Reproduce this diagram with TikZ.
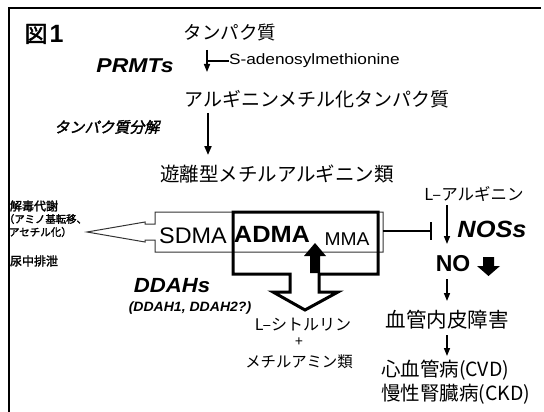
\documentclass[tikz,border=0pt]{standalone}
\usepackage{fontspec}
\setmainfont{Liberation Sans}
\newfontfamily\lsa{Liberation Sans}[FakeStretch=1.04]
\newfontfamily\lsb{Liberation Sans}[FakeStretch=1.08]
\newfontfamily\lsc{Liberation Sans}[FakeStretch=1.15]
\newfontfamily\jp{Noto Sans CJK JP}
\newfontfamily\jpb{Noto Sans CJK JP}[FakeBold=2]
\newfontfamily\jpbi{Noto Sans CJK JP}[FakeBold=2,FakeSlant=0.2]
\usetikzlibrary{arrows.meta}
\newcommand\fsz[1]{\fontsize{#1}{#1}\selectfont}
\tikzset{
  txt/.style={inner sep=0pt, outer sep=0pt},
  flow/.style={line width=1.5pt, -{Triangle[length=8pt,width=6pt]}},
  flowthick/.style={line width=2pt, -{Triangle[length=9pt,width=7pt]}},
  thinbox/.style={draw=black!80, line width=1pt, fill=white, line join=miter},
  thickbox/.style={draw=black, line width=3pt, line join=miter},
  blockarrow/.style={fill=black, draw=none},
  inhibit/.style={line width=2.5pt, -{Bar[width=18pt]}},
  frame/.style={line width=2pt, draw=black}
}
\begin{document}
\begin{tikzpicture}[x=1pt, y=-1pt]
\useasboundingbox (0,0) rectangle (544,412);
% frame
\draw[frame] (9,412) -- (9,8) -- (541,8);

% title
\node[txt] (fig) at (44,34) {\jpb\fsz{23}図\hspace{2pt}{\rmfamily\bfseries\fsz{25}1}};

% top chain
\node[txt] (p1) at (230,33) {\jp\fsz{18.5}タンパク質};
\node[txt] (prmt) at (135,66) {\lsc\bfseries\itshape\fsz{20}PRMTs};
\node[txt, anchor=west] (sam) at (229,61) {\lsc\fsz{15}S-adenosylmethionine};
\node[txt] (p2) at (317,99) {\jp\fsz{19}アルギニンメチル化タンパク質};
\node[txt] (deg) at (107,127) {\jpbi\fsz{15}タンパク質分解};
\node[txt] (free) at (277,174) {\jp\fsz{19.5}遊離型メチルアルギニン類};

\coordinate (a1s) at (207,50);
\coordinate (a1e) at (207,72);
\coordinate (a1m) at (207,61);
\draw[flow] (a1s) -- (a1e);
\draw[line width=1.5pt] (a1m) -- (sam.west);
\coordinate (a2s) at (208,113);
\coordinate (a2e) at (208,155);
\draw[flowthick] (a2s) -- (a2e);

% left texts
\node[txt, anchor=west] (detox) at (10,206) {\jpb\fsz{12}解毒代謝};
\node[txt, anchor=west] (ami) at (4,219) {\jpb\fsz{10.4}（アミノ基転移、};
\node[txt, anchor=west] (ace) at (9,232) {\jpb\fsz{10.5}アセチル化）};
\node[txt, anchor=west] (urine) at (10,261) {\jpb\fsz{12}尿中排泄};

% thin box with open left arrow
\draw[thinbox] (155,212) -- (383,212) -- (383,252) -- (155,252) -- (155,240)
  -- (145,240) -- (145,242) -- (87,232) -- (145,222) -- (145,224) -- (155,224) -- cycle;

% thick box with open down arrow
\draw[thickbox] (233,212) -- (378,212) -- (378,274) -- (319,274) -- (319,292)
  -- (338,292) -- (305,310) -- (273,292) -- (290,292) -- (290,274) -- (233,274) -- cycle;

\node[txt] (sdma) at (193,236) {\lsa\fsz{22.5}SDMA};
\node[txt] (adma) at (272,234) {\lsb\bfseries\fsz{23.5}ADMA};
\node[txt] (mma) at (347,239) {\lsa\fsz{18.5}MMA};

% filled up arrow
\fill[blockarrow] (315,243) -- (326,256) -- (320,256) -- (320,273) -- (310,273)
  -- (310,256) -- (304,256) -- cycle;

% inhibition
\coordinate (inhs) at (383,231);
\coordinate (inhe) at (432,231);
\draw[inhibit] (inhs) -- (inhe);

% right chain
\node[txt] (larg) at (474,194) {\jp\fsz{16.5}L–アルギニン};
\node[txt] (nos) at (492,229) {\lsb\bfseries\itshape\fsz{23.5}NOSs};
\node[txt] (no) at (453,264) {\bfseries\fsz{23}NO};
\coordinate (a3s) at (447,205);
\coordinate (a3e) at (447,244);
\draw[flow] (a3s) -- (a3e);
\fill[blockarrow] (483,257) -- (494,257) -- (494,266) -- (500,266) -- (488.5,276)
  -- (477,266) -- (483,266) -- cycle;
\coordinate (a4s) at (447,279);
\coordinate (a4e) at (447,301);
\draw[flow] (a4s) -- (a4e);
\node[txt] (endo) at (447,320) {\jp\fsz{20.5}血管内皮障害};
\coordinate (a5s) at (447,335);
\coordinate (a5e) at (447,356);
\draw[flow] (a5s) -- (a5e);
\node[txt, anchor=west] (cvd) at (381,370) {\jp\fsz{19.5}心血管病(CVD)};
\node[txt, anchor=west] (ckd) at (381,394) {\jp\fsz{19.5}慢性腎臓病(CKD)};

% DDAH
\node[txt] (ddah) at (172,286) {\lsb\bfseries\itshape\fsz{20.5}DDAHs};
\node[txt] (ddah2) at (190,308) {\lsa\bfseries\itshape\fsz{13.5}(DDAH1, DDAH2?)};
\node[txt] (cit) at (303,325) {\jp\fsz{16}L–シトルリン};
\node[txt] (plus) at (299,342) {\jp\fsz{14}+};
\node[txt] (mam) at (299,362) {\jp\fsz{15.4}メチルアミン類};
\end{tikzpicture}
\end{document}
